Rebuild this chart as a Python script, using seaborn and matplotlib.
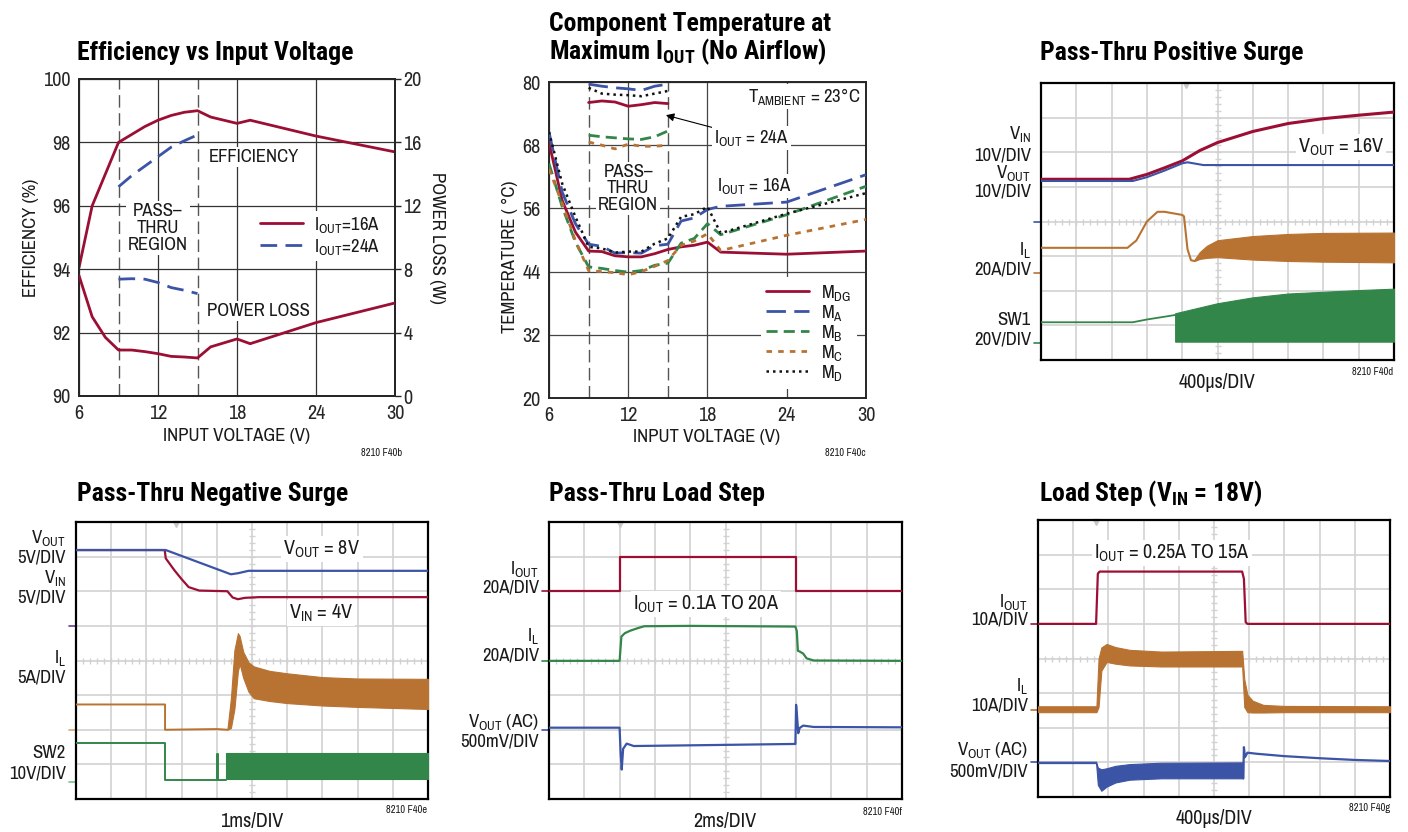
import matplotlib
matplotlib.use('Agg')
import matplotlib.pyplot as plt
import numpy as np
import seaborn as sns

# ---------------- data: efficiency / power loss ----------------
vin_16a = [6, 7, 8, 9, 10, 11, 12, 13, 14, 15, 16, 17, 18, 19, 24, 30]
eff_16a = [94.05, 96.0, 97.0, 98.0, 98.25, 98.5, 98.7, 98.85, 98.95, 99.0, 98.8, 98.7, 98.6, 98.7, 98.2, 97.7]
loss_16a = [7.6, 5.0, 3.7, 2.9, 2.9, 2.8, 2.67, 2.5, 2.46, 2.4, 3.1, 3.35, 3.6, 3.3, 4.63, 5.87]
vin_eff_24a = [9, 10, 11, 12, 13, 14, 14.8]
eff_24a = [96.6, 96.95, 97.25, 97.55, 97.85, 98.05, 98.2]
vin_loss_24a = [9, 10, 11, 12, 13, 14, 15]
loss_24a = [7.37, 7.4, 7.37, 7.16, 6.84, 6.67, 6.46]
passthru = [9, 15]

# ---------------- data: component temperature ----------------
temp_vin = [6, 7, 8, 9, 10, 11, 12, 13, 14, 15, 16, 17, 18, 19, 24, 30]
t_mdg = [68.5, 57.5, 51.5, 47.9, 47.8, 47.0, 46.8, 46.8, 47.4, 48.2, 48.7, 49.0, 49.6, 47.7, 47.3, 47.9]
t_ma = [70.5, 59.1, 53.1, 49.2, 48.8, 47.5, 47.6, 47.5, 48.9, 49.2, 53.6, 54.2, 55.8, 56.4, 57.2, 62.4]
t_mb = [64.5, 56.3, 49.6, 44.9, 44.6, 44.2, 43.9, 44.2, 45.2, 45.6, 49.4, 50.3, 53.1, 51.0, 54.8, 60.2]
t_mc = [63.5, 56.9, 49.9, 44.2, 44.0, 43.8, 43.4, 44.0, 45.0, 46.1, 49.0, 49.8, 51.2, 48.0, 50.9, 53.9]
t_md = [70.5, 60.7, 54.4, 48.7, 48.4, 47.6, 47.8, 47.8, 49.3, 50.3, 54.4, 54.9, 56.3, 51.3, 55.0, 58.9]
t24_vin = [9, 10, 11, 12, 13, 14, 15]
t24_mdg = [76.1, 76.4, 76.2, 75.4, 75.7, 76.1, 75.9]
t24_ma = [79.6, 79.2, 78.9, 78.7, 78.4, 79.2, 79.6]
t24_mb = [69.9, 69.6, 69.4, 69.2, 69.1, 69.6, 70.7]
t24_mc = [68.6, 68.0, 67.3, 68.2, 67.8, 67.8, 68.0]
t24_md = [78.9, 77.8, 77.6, 77.5, 77.3, 77.8, 78.3]

# ---------------- data: scope traces (x and y in divisions) ----------------
# positive surge
ps_vin_t = [0, 2.5, 3.0, 3.5, 4.0, 4.5, 5.0, 6.0, 7.0, 8.0, 9.0, 10.0]
ps_vin_v = [5.22, 5.22, 5.36, 5.55, 5.75, 6.05, 6.28, 6.60, 6.83, 6.97, 7.07, 7.16]
ps_vout_t = [0, 2.6, 3.0, 3.5, 4.0, 4.15, 4.6, 10]
ps_vout_v = [5.17, 5.17, 5.28, 5.47, 5.68, 5.71, 5.63, 5.63]
ps_il_t = [0, 2.45, 2.7, 3.0, 3.3, 3.5, 4.0, 4.05, 4.15, 4.25, 4.35]
ps_il_v = [3.24, 3.24, 3.45, 4.0, 4.28, 4.28, 4.19, 4.15, 3.2, 2.88, 2.86]
ps_ilb_t = [4.35, 4.5, 4.7, 5.0, 6.0, 7.0, 8.0, 10.0]
ps_ilb_hi = [2.90, 3.12, 3.30, 3.46, 3.58, 3.64, 3.67, 3.68]
ps_ilb_lo = [2.86, 2.92, 2.95, 2.97, 2.90, 2.86, 2.84, 2.82]
ps_sw_t = [0, 2.6, 3.0, 3.5, 3.8]
ps_sw_v = [1.09, 1.09, 1.17, 1.25, 1.30]
ps_swb_t = [3.8, 4.5, 5.0, 6.0, 7.0, 8.0, 9.0, 10.0]
ps_swb_hi = [1.35, 1.52, 1.64, 1.81, 1.92, 1.97, 2.02, 2.06]
ps_swb_lo = [0.53, 0.53, 0.53, 0.53, 0.53, 0.53, 0.53, 0.53]

# negative surge
ns_vout_t = [0, 2.55, 4.4, 4.6, 4.9, 10]
ns_vout_v = [7.19, 7.19, 6.49, 6.52, 6.59, 6.59]
ns_vin_t = [0, 2.52, 2.55, 2.8, 3.0, 3.2, 3.5, 4.3, 4.45, 4.6, 4.8, 5.2, 10]
ns_vin_v = [7.19, 7.19, 6.95, 6.6, 6.35, 6.12, 6.02, 6.0, 5.82, 5.77, 5.81, 5.83, 5.83]
ns_il_t = [0, 2.53, 2.53, 4.0, 4.3]
ns_il_v = [2.73, 2.73, 2.0, 2.02, 2.0]
ns_ilb_t = [4.30, 4.40, 4.50, 4.60, 4.65, 4.75, 4.90, 5.05, 5.5, 6.0, 7.0, 8.0, 10.0]
ns_ilb_hi = [2.00, 2.9, 4.3, 4.79, 4.70, 4.25, 3.95, 3.83, 3.70, 3.63, 3.52, 3.48, 3.47]
ns_ilb_lo = [2.00, 2.05, 2.6, 3.7, 3.9, 3.5, 3.1, 2.91, 2.83, 2.77, 2.70, 2.66, 2.60]
ns_sw_t = [0, 2.54, 2.54, 4.0, 4.0, 4.03, 4.03, 4.27]
ns_sw_v = [1.62, 1.62, 0.54, 0.54, 1.30, 1.30, 0.54, 0.54]
ns_swb_t = [4.27, 10.0]
ns_swb_hi = [1.33, 1.33]
ns_swb_lo = [0.58, 0.58]

# pass-thru load step
ls_iout_t = [0, 2.0, 2.0, 6.99, 6.99, 10]
ls_iout_v = [6.02, 6.02, 7.0, 7.0, 6.02, 6.02]
ls_il_t = [0, 2.0, 2.05, 2.15, 2.3, 2.5, 2.7, 4.0, 6.98, 7.02, 7.05, 7.1, 7.2, 7.3, 7.5, 10]
ls_il_v = [3.99, 3.99, 4.69, 4.79, 4.86, 4.93, 4.99, 5.0, 4.98, 4.85, 4.28, 4.26, 4.2, 4.06, 4.0, 3.99]
ls_vout_t = [0, 2.0, 2.03, 2.06, 2.1, 2.2, 2.4, 4.0, 6.98, 7.0, 7.03, 7.06, 7.1, 7.2, 7.5, 10]
ls_vout_v = [2.06, 2.06, 1.3, 0.85, 1.45, 1.60, 1.53, 1.55, 1.59, 2.72, 2.35, 1.9, 2.05, 2.12, 2.08, 2.07]

# load step (VIN = 18V)
st_iout_t = [0, 1.65, 1.70, 1.75, 5.80, 5.85, 5.90, 5.95, 10]
st_iout_v = [5.0, 5.0, 6.45, 6.51, 6.51, 6.3, 5.05, 5.0, 5.0]
st_il_t = [0, 1.66, 1.72, 1.80, 1.95, 2.2, 2.6, 3.5, 5.80, 5.86, 5.95, 6.1, 6.4, 7.0, 10]
st_il_hi = [2.62, 2.62, 4.0, 4.32, 4.42, 4.33, 4.25, 4.20, 4.22, 3.4, 2.95, 2.78, 2.66, 2.63, 2.62]
st_il_lo = [2.45, 2.45, 2.6, 3.65, 3.9, 3.85, 3.80, 3.77, 3.77, 2.6, 2.45, 2.44, 2.44, 2.45, 2.45]
st_voutb_t = [0, 1.65, 1.70, 1.80, 1.95, 2.2, 2.6, 3.5, 5.80, 5.83]
st_voutb_hi = [1.02, 1.02, 0.85, 0.80, 0.83, 0.90, 0.95, 0.99, 1.0, 1.0]
st_voutb_lo = [0.98, 0.98, 0.35, 0.18, 0.30, 0.42, 0.50, 0.54, 0.54, 0.54]
st_vout_t = [5.83, 5.85, 5.88, 5.95, 6.2, 7.0, 8.0, 9.0, 10.0]
st_vout_v = [0.54, 1.44, 1.15, 1.28, 1.25, 1.18, 1.12, 1.07, 1.04]

RED = '#9c0f35'
BLUE = '#3b54a5'
GREEN = '#33864a'
ORANGE = '#b87333'
SCOPE_GRID = '#d2d2d2'

sns.set_style('white')
plt.rcParams['font.family'] = ['Archivo Narrow', 'Roboto Condensed', 'DejaVu Sans']
plt.rcParams['mathtext.fontset'] = 'custom'
plt.rcParams['mathtext.rm'] = 'Archivo Narrow'
plt.rcParams['mathtext.it'] = 'Archivo Narrow'
plt.rcParams['mathtext.bf'] = 'Roboto Condensed:bold'
plt.rcParams['text.color'] = '#1a1a1a'

W, H = 1408, 832
fig = plt.figure(figsize=(W / 100, H / 100), dpi=100)


def add_ax(l, t, r, b):
    return fig.add_axes([l / W, 1 - b / H, (r - l) / W, (b - t) / H])


def ftext(x, y, s, **kw):
    return fig.text(x / W, 1 - y / H, s, **kw)


def line(ax, x, y, color, lw=1.4, ls='-', z=3):
    sns.lineplot(x=x, y=y, ax=ax, color=color, lw=lw, linestyle=ls, sort=False,
                 estimator=None, legend=False, zorder=z)
    return ax.lines[-1]


def band(ax, x, hi, lo, color):
    ax.fill_between(x, lo, hi, color=color, lw=0.8, zorder=3)


def scope_axes(l, t, r, b, trig, grounds):
    ax = add_ax(l, t, r, b)
    ax.set_xlim(0, 10)
    ax.set_ylim(0, 8)
    ax.set_xticks([])
    ax.set_yticks([])
    for k in range(1, 10):
        ax.axvline(k, color=SCOPE_GRID, lw=1.2, zorder=1)
    for k in range(1, 8):
        ax.axhline(k, color=SCOPE_GRID, lw=1.2, zorder=1)
    ax.plot(np.arange(0.2, 10, 0.2), np.full(49, 4.0), ls='none', marker='|', ms=5,
            mew=1, color=SCOPE_GRID, zorder=1)
    ax.plot(np.full(39, 5.0), np.arange(0.2, 8, 0.2), ls='none', marker='_', ms=5,
            mew=1, color=SCOPE_GRID, zorder=1)
    ax.plot([trig], [7.93], marker='v', ms=5, color='#c8c8c8', zorder=2, clip_on=False)
    for gy, gc in grounds:
        ax.plot([-0.2, -0.04], [gy, gy], color=gc, lw=1.2, clip_on=False)
    for s in ax.spines.values():
        s.set_linewidth(1.6)
        s.set_color('black')
    return ax


FS = 13.5
lab = dict(fontsize=FS, ha='right', va='center')
tfont = dict(fontsize=18.5, fontweight='bold', ha='left', va='baseline', color='black',
             family=['Roboto Condensed', 'DejaVu Sans'])
small = dict(fontsize=7.5, ha='right', va='center')
white = dict(facecolor='white', edgecolor='none', pad=1.5)

# ================= panel 1: efficiency =================
ax1 = add_ax(79, 79, 395, 396)
line(ax1, vin_16a, eff_16a, RED, lw=2.0)
line(ax1, vin_eff_24a, eff_24a, BLUE, lw=2.0, ls=(0, (6, 3)))
ax1.set_xlim(6, 30)
ax1.set_ylim(90, 100)
ax1.set_xticks(range(6, 31, 6))
ax1.set_yticks(range(90, 101, 2))
ax1.grid(True, color='#333333', lw=0.9, zorder=0)
ax1.set_axisbelow(True)
for v in passthru:
    ax1.axvline(v, color='#555555', lw=1.0, ls=(0, (9, 4)), zorder=0.5)
ax1.tick_params(length=0, labelsize=FS + 1, pad=6)
for s in ax1.spines.values():
    s.set_linewidth(1.4)
ax1.text(19.3, 97.55, 'EFFICIENCY', fontsize=FS, ha='center', va='center', bbox=white, zorder=1)
ax1.text(12, 95.3, 'PASS–\nTHRU\nREGION', fontsize=FS, ha='center', va='center',
         linespacing=1.05, bbox=white, zorder=1)
ax1.text(19.6, 92.68, 'POWER LOSS', fontsize=FS, ha='center', va='center', bbox=white, zorder=1)
h1 = plt.Line2D([], [], color=RED, lw=2.0)
h2 = plt.Line2D([], [], color=BLUE, lw=2.0, ls=(0, (6, 3)))
leg = ax1.legend([h1, h2], [r'I$_{\mathrm{OUT}}$=16A', r'I$_{\mathrm{OUT}}$=24A'],
                 loc='center left', bbox_to_anchor=(0.53, 0.505), fontsize=FS, frameon=True,
                 handlelength=2.3, handletextpad=0.6, labelspacing=0.1, borderpad=0.2)
leg.get_frame().set_facecolor('white')
leg.get_frame().set_edgecolor('none')
leg.get_frame().set_alpha(1)

ax1r = ax1.twinx()
line(ax1r, vin_16a, loss_16a, RED, lw=2.0)
line(ax1r, vin_loss_24a, loss_24a, BLUE, lw=2.0, ls=(0, (6, 3)))
ax1r.set_ylim(0, 20)
ax1r.set_yticks(range(0, 21, 4))
ax1r.tick_params(axis='y', length=4, width=1, labelsize=FS + 1, pad=2, direction='out')
for s in ax1r.spines.values():
    s.set_linewidth(1.4)

ftext(77, 60, 'Efficiency vs Input Voltage', **tfont)
ftext(31, 238, 'EFFICIENCY (%)', fontsize=FS, rotation=90, ha='center', va='center')
ftext(437, 238, 'POWER LOSS (W)', fontsize=FS, rotation=-90, ha='center', va='center')
ftext(237, 436, 'INPUT VOLTAGE (V)', fontsize=FS, ha='center', va='center')
ftext(402, 453, '8210 F40b', **small)

# ================= panel 2: temperature =================
ax2 = add_ax(549, 82, 866, 398)
dash_ma = (0, (7, 3))
dash_mb = (0, (4, 2.2))
dash_mc = (0, (2, 2.2))
dot_md = (0, (1, 1.6))
la = line(ax2, temp_vin, t_mdg, RED, lw=2.0)
lb = line(ax2, temp_vin, t_ma, BLUE, lw=2.0, ls=dash_ma)
lc = line(ax2, temp_vin, t_mb, GREEN, lw=2.0, ls=dash_mb)
ld = line(ax2, temp_vin, t_mc, ORANGE, lw=2.0, ls=dash_mc)
le = line(ax2, temp_vin, t_md, '#111111', lw=1.8, ls=dot_md)
line(ax2, t24_vin, t24_mdg, RED, lw=2.0)
line(ax2, t24_vin, t24_ma, BLUE, lw=2.0, ls=dash_ma)
line(ax2, t24_vin, t24_mb, GREEN, lw=2.0, ls=dash_mb)
line(ax2, t24_vin, t24_mc, ORANGE, lw=2.0, ls=dash_mc)
line(ax2, t24_vin, t24_md, '#111111', lw=1.8, ls=dot_md)
ax2.set_xlim(6, 30)
ax2.set_ylim(20, 80)
ax2.set_xticks(range(6, 31, 6))
ax2.set_yticks(range(20, 81, 12))
ax2.grid(True, color='#444444', lw=0.9, zorder=0)
ax2.set_axisbelow(True)
for v in passthru:
    ax2.axvline(v, color='#555555', lw=1.0, ls=(0, (9, 4)), zorder=0.5)
ax2.tick_params(length=0, labelsize=FS + 1, pad=6)
for s in ax2.spines.values():
    s.set_linewidth(1.4)
ax2.text(29.6, 77.2, r'T$_{\mathrm{AMBIENT}}$ = 23°C', fontsize=FS, ha='right', va='center',
         bbox=white, zorder=1)
ax2.annotate(r'I$_{\mathrm{OUT}}$ = 24A', xy=(14.85, 73.7), xytext=(18.5, 69.4), fontsize=FS,
             ha='left', va='center', bbox=white, zorder=1,
             arrowprops=dict(arrowstyle='-|>', color='black', lw=0.8, shrinkA=0, shrinkB=0,
                             mutation_scale=12))
ax2.text(18.7, 60.3, r'I$_{\mathrm{OUT}}$ = 16A', fontsize=FS, ha='left', va='center',
         bbox=white, zorder=1)
ax2.text(12, 59.8, 'PASS–\nTHRU\nREGION', fontsize=FS, ha='center', va='center',
         linespacing=1.05, bbox=white, zorder=1)
leg2 = ax2.legend([la, lb, lc, ld, le],
                  [r'M$_{\mathrm{DG}}$', r'M$_{\mathrm{A}}$', r'M$_{\mathrm{B}}$',
                   r'M$_{\mathrm{C}}$', r'M$_{\mathrm{D}}$'],
                  loc='lower right', bbox_to_anchor=(1.0, 0.0), fontsize=FS, frameon=True,
                  handlelength=2.3, handletextpad=0.6, labelspacing=0.0, borderpad=0.3)
leg2.get_frame().set_facecolor('white')
leg2.get_frame().set_edgecolor('none')
leg2.get_frame().set_alpha(1)

ftext(549, 31, 'Component Temperature at', **tfont)
ftext(549, 59, r'Maximum I$_{\mathbf{OUT}}$ (No Airflow)', **tfont)
ftext(510, 257, 'TEMPERATURE ( °C)', fontsize=FS, rotation=90, ha='center', va='center')
ftext(707, 437, 'INPUT VOLTAGE (V)', fontsize=FS, ha='center', va='center')
ftext(866, 453, '8210 F40c', **small)

# ================= panel 3: positive surge =================
ax3 = scope_axes(1041, 83, 1394, 360, 4.12, [(4.0, BLUE), (2.52, ORANGE), (0.5, GREEN)])
band(ax3, ps_swb_t, ps_swb_hi, ps_swb_lo, GREEN)
line(ax3, ps_sw_t, ps_sw_v, GREEN, lw=1.3)
band(ax3, ps_ilb_t, ps_ilb_hi, ps_ilb_lo, ORANGE)
line(ax3, ps_il_t, ps_il_v, ORANGE, lw=1.5)
line(ax3, ps_vin_t, ps_vin_v, RED, lw=2.2)
line(ax3, ps_vout_t, ps_vout_v, BLUE, lw=1.5)
ftext(1341, 147, r'V$_{\mathrm{OUT}}$ = 16V', fontsize=FS + 1, ha='center', va='center', bbox=white)
ftext(1031, 134, r'V$_{\mathrm{IN}}$', **lab)
ftext(1031, 155, '10V/DIV', **lab)
ftext(1031, 173, r'V$_{\mathrm{OUT}}$', **lab)
ftext(1031, 191, '10V/DIV', **lab)
ftext(1031, 250, r'I$_{\mathrm{L}}$', **lab)
ftext(1031, 270, '20A/DIV', **lab)
ftext(1031, 320, 'SW1', **lab)
ftext(1031, 339, '20V/DIV', **lab)
ftext(1217, 383, '400µs/DIV', fontsize=FS + 1, ha='center', va='center')
ftext(1393, 372, '8210 F40d', **small)
ftext(1040, 60, 'Pass-Thru Positive Surge', **tfont)

# ================= panel 4: negative surge =================
ax4 = scope_axes(76, 522, 428, 799, 2.84, [(5.0, '#6a3d8f'), (2.0, '#d9a77a'), (0.48, '#7fc08f')])
band(ax4, ns_swb_t, ns_swb_hi, ns_swb_lo, GREEN)
line(ax4, ns_sw_t, ns_sw_v, GREEN, lw=1.4)
band(ax4, ns_ilb_t, ns_ilb_hi, ns_ilb_lo, ORANGE)
line(ax4, ns_il_t, ns_il_v, ORANGE, lw=1.4)
line(ax4, ns_vin_t, ns_vin_v, RED, lw=1.6)
line(ax4, ns_vout_t, ns_vout_v, BLUE, lw=1.6)
ftext(322, 549, r'V$_{\mathrm{OUT}}$ = 8V', fontsize=FS + 1, ha='center', va='center', bbox=white)
ftext(321, 613, r'V$_{\mathrm{IN}}$ = 4V', fontsize=FS + 1, ha='center', va='center', bbox=white)
ftext(66, 538, r'V$_{\mathrm{OUT}}$', **lab)
ftext(66, 557, '5V/DIV', **lab)
ftext(66, 578, r'V$_{\mathrm{IN}}$', **lab)
ftext(66, 597, '5V/DIV', **lab)
ftext(66, 658, r'I$_{\mathrm{L}}$', **lab)
ftext(66, 678, '5A/DIV', **lab)
ftext(66, 753, 'SW2', **lab)
ftext(66, 774, '10V/DIV', **lab)
ftext(252, 821, '1ms/DIV', fontsize=FS + 1, ha='center', va='center')
ftext(427, 810, '8210 F40e', **small)
ftext(77, 501, 'Pass-Thru Negative Surge', **tfont)

# ================= panel 5: pass-thru load step =================
ax5 = scope_axes(549, 522, 902, 799, 2.02, [(6.02, RED), (4.0, GREEN), (2.0, BLUE)])
line(ax5, ls_iout_t, ls_iout_v, RED, lw=1.6)
line(ax5, ls_il_t, ls_il_v, GREEN, lw=1.6)
line(ax5, ls_vout_t, ls_vout_v, BLUE, lw=1.6)
ftext(706, 604, r'I$_{\mathrm{OUT}}$ = 0.1A TO 20A', fontsize=FS + 1, ha='center', va='center', bbox=white)
ftext(539, 569, r'I$_{\mathrm{OUT}}$', **lab)
ftext(539, 587, '20A/DIV', **lab)
ftext(539, 636, r'I$_{\mathrm{L}}$', **lab)
ftext(539, 655, '20A/DIV', **lab)
ftext(539, 722, r'V$_{\mathrm{OUT}}$ (AC)', **lab)
ftext(539, 741, '500mV/DIV', **lab)
ftext(725, 821, '2ms/DIV', fontsize=FS + 1, ha='center', va='center')
ftext(902, 812, '8210 F40f', **small)
ftext(549, 501, 'Pass-Thru Load Step', **tfont)

# ================= panel 6: load step =================
ax6 = scope_axes(1038, 520, 1390, 797, 1.64, [(5.0, RED), (2.51, ORANGE), (1.0, BLUE)])
band(ax6, st_il_t, st_il_hi, st_il_lo, ORANGE)
band(ax6, st_voutb_t, st_voutb_hi, st_voutb_lo, BLUE)
line(ax6, st_vout_t, st_vout_v, BLUE, lw=1.6)
line(ax6, st_iout_t, st_iout_v, RED, lw=1.6)
ftext(1172, 553, r'I$_{\mathrm{OUT}}$ = 0.25A TO 15A', fontsize=FS + 1, ha='center', va='center', bbox=white)
ftext(1028, 602, r'I$_{\mathrm{OUT}}$', **lab)
ftext(1028, 620, '10A/DIV', **lab)
ftext(1028, 686, r'I$_{\mathrm{L}}$', **lab)
ftext(1028, 705, '10A/DIV', **lab)
ftext(1028, 750, r'V$_{\mathrm{OUT}}$ (AC)', **lab)
ftext(1028, 771, '500mV/DIV', **lab)
ftext(1214, 819, '400µs/DIV', fontsize=FS + 1, ha='center', va='center')
ftext(1390, 808, '8210 F40g', **small)
ftext(1039, 501, r'Load Step (V$_{\mathbf{IN}}$ = 18V)', **tfont)

fig.savefig('out.png', dpi=100)
